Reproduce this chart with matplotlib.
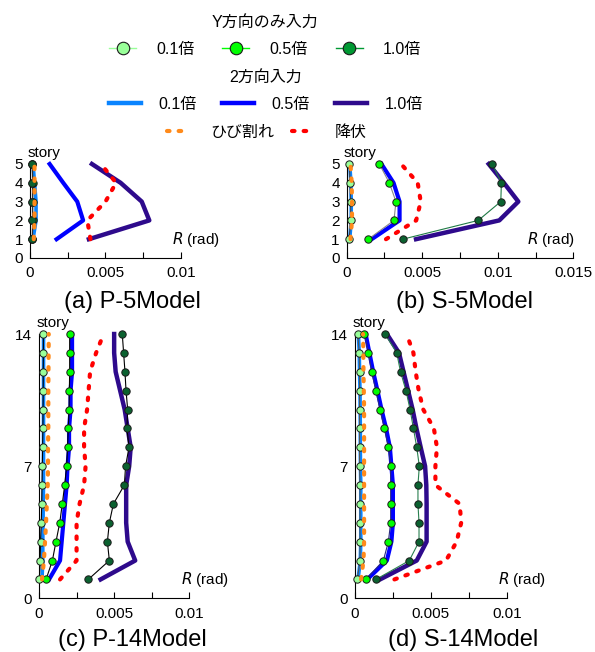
import matplotlib
matplotlib.use('Agg')
import matplotlib.pyplot as plt
from matplotlib.lines import Line2D
import numpy as np

plt.rcParams['font.family'] = ['Liberation Sans', 'Noto Sans CJK JP', 'DejaVu Sans']

# story numbers
st5 = np.arange(1, 6)
st14 = np.arange(1, 15)

# (a) P-5Model  -- R (rad) per story, bottom to top
ya01 = [0.0001, 0.0001, 0.0001, 0.0001, 0.0001]
ya05 = [0.00015, 0.00018, 0.00018, 0.00018, 0.00015]
ya10 = [0.0001, 0.0001, 0.0001, 0.0001, 0.0001]
ba01 = [0.0002, 0.0004, 0.0004, 0.0003, 0.0002]
ba05 = [0.00176, 0.00352, 0.00313, 0.0022, 0.0013]
ba10 = [0.0039, 0.0079, 0.0074, 0.006, 0.0041]
cra = [0.00025, 0.0003, 0.0003, 0.0003, 0.0003]
yia = [0.0040, 0.0038, 0.0050, 0.0057, 0.0047]

# (b) S-5Model
yb01 = [0.00015, 0.00028, 0.00026, 0.00022, 0.00018]
yb05 = [0.00143, 0.00313, 0.00326, 0.00282, 0.00216]
yb10 = [0.00371, 0.00871, 0.0102, 0.01024, 0.00964]
bb01 = [0.0002, 0.0003, 0.0003, 0.00028, 0.0002]
bb05 = [0.00165, 0.0035, 0.0035, 0.0031, 0.0023]
bb10 = [0.00459, 0.0101, 0.01136, 0.0104, 0.0094]
crb = [0.00025, 0.00035, 0.00035, 0.00033, 0.00025]
yib = [0.0026, 0.0046, 0.0049, 0.0047, 0.0036]

# (c) P-14Model
yc01 = [0.00002, 0.00008, 0.0001, 0.00015, 0.00018, 0.0002, 0.00022,
        0.00024, 0.00026, 0.00027, 0.00028, 0.00028, 0.00029, 0.00029]
yc05 = [0.00047, 0.00089, 0.00113, 0.00138, 0.00155, 0.00171, 0.00184,
        0.0019, 0.00195, 0.002, 0.00202, 0.00204, 0.00204, 0.00204]
yc10 = [0.00328, 0.00468, 0.00455, 0.00468, 0.00495, 0.00568, 0.00576,
        0.00599, 0.00585, 0.0059, 0.00579, 0.00572, 0.00563, 0.00554]
bc01 = [0.0002, 0.00025, 0.00025, 0.00027, 0.00028, 0.0003, 0.0003,
        0.0003, 0.0003, 0.0003, 0.0003, 0.0003, 0.0003, 0.0003]
bc05 = [0.00067, 0.0014, 0.00151, 0.00162, 0.00173, 0.00184, 0.0019,
        0.002, 0.002, 0.0021, 0.0021, 0.0022, 0.0022, 0.0022]
bc10 = [0.0041, 0.0064, 0.0059, 0.0058, 0.0058, 0.0058, 0.006,
        0.0061, 0.0059, 0.0057, 0.0054, 0.0051, 0.0050, 0.0050]
crc = [0.0002, 0.00033, 0.0004, 0.00047, 0.00052, 0.00058, 0.0006,
       0.0006, 0.00062, 0.00062, 0.00062, 0.00063, 0.00064, 0.00065]
yic = [0.0014, 0.0025, 0.0025, 0.0025, 0.0027, 0.0030, 0.0031,
       0.0030, 0.0030, 0.0032, 0.0033, 0.0034, 0.0038, 0.0043]

# (d) S-14Model
yd01 = [0.00015, 0.00033, 0.00033, 0.00033, 0.00033, 0.00033, 0.0003,
        0.0003, 0.0003, 0.0003, 0.0003, 0.0003, 0.00028, 0.00018]
yd05 = [0.00072, 0.00187, 0.0022, 0.00235, 0.00235, 0.00235, 0.00235,
        0.0022, 0.00193, 0.00165, 0.00138, 0.0011, 0.00088, 0.00062]
yd10 = [0.00138, 0.00358, 0.00422, 0.00422, 0.00415, 0.00415, 0.00424,
        0.00407, 0.00385, 0.00363, 0.00336, 0.003, 0.00275, 0.00198]
bd01 = [0.0002, 0.00035, 0.00038, 0.00038, 0.00038, 0.00038, 0.00036,
        0.00035, 0.00035, 0.00034, 0.00033, 0.0003, 0.00028, 0.00022]
bd05 = [0.0008, 0.0021, 0.0024, 0.0025, 0.0025, 0.0025, 0.0024,
        0.0023, 0.00205, 0.00175, 0.00148, 0.0012, 0.00095, 0.0007]
bd10 = [0.00165, 0.00407, 0.00472, 0.00472, 0.00472, 0.0047, 0.00462,
        0.00433, 0.00405, 0.0038, 0.0035, 0.0032, 0.0029, 0.0021]
crd = [0.0004, 0.00056, 0.0006, 0.0006, 0.0006, 0.0006, 0.0006,
       0.0006, 0.0006, 0.0006, 0.00058, 0.00056, 0.00055, 0.00053]
yid = [0.0026, 0.0060, 0.0067, 0.0070, 0.0069, 0.0053, 0.0053,
       0.0054, 0.0052, 0.0045, 0.0042, 0.0040, 0.00385, 0.0034]

titles = ['(a) P-5Model', '(b) S-5Model', '(c) P-14Model', '(d) S-14Model']

c_y01, c_y05, c_y10 = '#99ff99', '#00ff00', '#0b6130'
c_y10_leg = '#009933'
c_b01, c_b05, c_b10 = '#0a84ff', '#0000ff', '#2e0a8c'
c_cr, c_yi = '#ff8a1a', '#ff0000'

W, H = 595, 652
fig = plt.figure(figsize=(W / 100, H / 100), dpi=100)

def px_axes(x0, x1, ytop, ybot):
    return fig.add_axes([x0 / W, 1 - ybot / H, (x1 - x0) / W, (ybot - ytop) / H])

panels = [
    dict(ax=px_axes(30, 181, 164, 258), st=st5, xmax=0.01,
         y=(ya01, ya05, ya10), b=(ba01, ba05, ba10), cr=cra, yi=yia,
         conn=('#333333', '#333333', '#333333'), rx=1.26,
         title_xy=(132, 302)),
    dict(ax=px_axes(346.7, 573.3, 164, 258), st=st5, xmax=0.015,
         y=(yb01, yb05, yb10), b=(bb01, bb05, bb10), cr=crb, yi=yib,
         conn=('#444444', '#888888', '#1f7a45'), rx=1.007,
         title_xy=(465, 302)),
    dict(ax=px_axes(39, 189.3, 334, 598.3), st=st14, xmax=0.01,
         y=(yc01, yc05, yc10), b=(bc01, bc05, bc10), cr=crc, yi=yic,
         conn=('#000000', '#000000', '#000000'), rx=1.264,
         title_xy=(132, 640)),
    dict(ax=px_axes(355, 506.7, 334, 598.3), st=st14, xmax=0.01,
         y=(yd01, yd05, yd10), b=(bd01, bd05, bd10), cr=crd, yi=yid,
         conn=('#555555', '#2a2a80', '#2a8050'), rx=1.259,
         title_xy=(463, 640)),
]

dot = (0, (0.6, 2.2))
for p, title in zip(panels, titles):
    ax = p['ax']
    st = p['st']
    nst = len(st)
    # 2-direction input
    ax.plot(p['b'][0], st, color=c_b01, lw=2.6, zorder=2, clip_on=False)
    ax.plot(p['b'][1], st, color=c_b05, lw=3.0, zorder=2, clip_on=False)
    ax.plot(p['b'][2], st, color=c_b10, lw=3.2, zorder=2, clip_on=False)
    # Y-direction only
    for vals, fc, lc in zip(p['y'], (c_y01, c_y05, c_y10), p['conn']):
        ax.plot(vals, st, color=lc, lw=0.8, marker='o', ms=5.3,
                mfc=fc, mec='#1a1a1a', mew=0.7, zorder=3, clip_on=False)
    # cracking / yielding
    ax.plot(p['cr'], st, color=c_cr, lw=3, ls=dot, dash_capstyle='round',
            zorder=4, clip_on=False)
    ax.plot(p['yi'], st, color=c_yi, lw=3, ls=dot, dash_capstyle='round',
            zorder=4, clip_on=False)

    ax.set_xlim(0, p['xmax'])
    ax.set_ylim(0, nst)
    ax.spines['top'].set_visible(False)
    ax.spines['right'].set_visible(False)
    major = np.arange(0, p['xmax'] + 1e-9, 0.005)
    ax.set_xticks(major)
    ax.set_xticklabels(['0' if v == 0 else ('%g' % round(v, 4)) for v in major])
    ax.set_xticks(np.arange(0.0025, p['xmax'], 0.005), minor=True)
    ax.tick_params(axis='x', which='both', direction='in', length=4, width=0.8,
                   labelsize=11, pad=6)
    if nst == 5:
        ax.set_yticks(np.arange(0, 6))
    else:
        ax.set_yticks([0, 7, 14])
    ax.tick_params(axis='y', length=0, labelsize=11, pad=5)
    ax.annotate('story', xy=(0, 1), xycoords='axes fraction', xytext=(-2, 3),
                textcoords='offset points', ha='left', va='bottom', fontsize=11)
    ax.text(p['rx'], 1.0 / nst, r'$R$ (rad)', transform=ax.transAxes,
            ha='right', va='center', fontsize=11)
    fig.text(p['title_xy'][0] / W, 1 - p['title_xy'][1] / H, title,
             ha='center', va='center', fontsize=17)

# legends
h1 = [Line2D([], [], color=c, lw=1, marker='o', ms=9, mfc=c, mec='#1a1a1a', mew=0.8)
      for c in (c_y01, c_y05, c_y10_leg)]
h2 = [Line2D([], [], color=c, lw=3.2) for c in (c_b01, c_b05, c_b10)]
h3 = [Line2D([], [], color=c, lw=3, ls=dot, dash_capstyle='round') for c in (c_cr, c_yi)]
labs = ['0.1倍', '0.5倍', '1.0倍']

kw = dict(frameon=False, fontsize=11.5, title_fontsize=11.5, loc='center',
          borderpad=0, borderaxespad=0)
fig.legend(handles=h1, labels=labs, ncol=3, title='Y方向のみ入力',
           bbox_to_anchor=(265 / W, 1 - 36 / H), handlelength=1.7,
           handletextpad=1.25, columnspacing=1.75, labelspacing=0.75, **kw)
fig.legend(handles=h2, labels=labs, ncol=3, title='2方向入力',
           bbox_to_anchor=(266 / W, 1 - 91 / H), handlelength=2.0,
           handletextpad=1.1, columnspacing=1.6, labelspacing=0.75, **kw)
fig.legend(handles=h3, labels=['ひび割れ', '降伏'], ncol=2,
           bbox_to_anchor=(267 / W, 1 - 132 / H), handlelength=1.45,
           handletextpad=1.25, columnspacing=1.1, **kw)

plt.savefig('out.png', dpi=100)
